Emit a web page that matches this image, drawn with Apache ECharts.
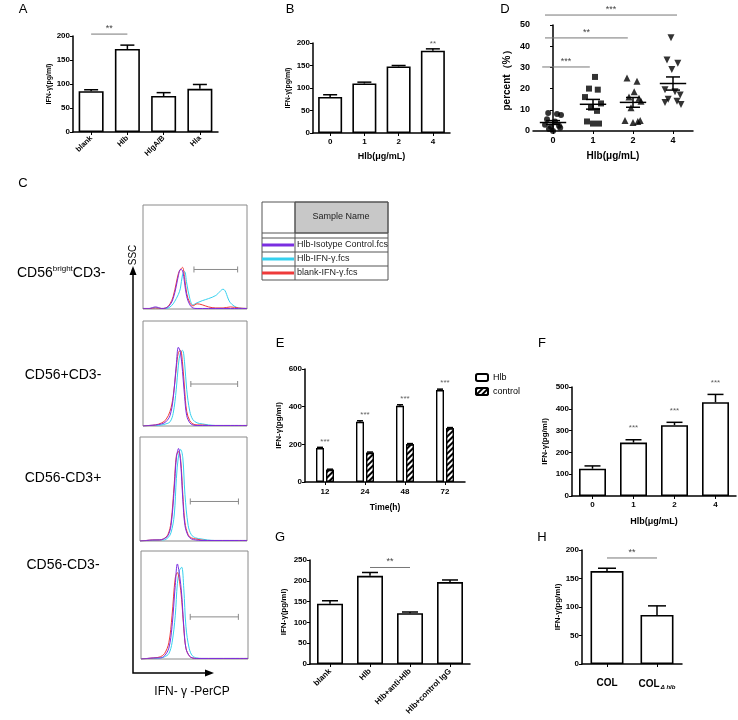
<!DOCTYPE html>
<html><head><meta charset="utf-8">
<script src="https://cdn.jsdelivr.net/npm/echarts@6/dist/echarts.min.js"></script>
<style>html,body{margin:0;padding:0;background:#fff}#c{width:738px;height:720px}</style>
</head><body><div id="c"></div>
<script>
// ---------------- DATA ----------------
const aCats = ['blank', 'Hlb', 'HlgA/B', 'Hla'];
const aVals = [85, 173, 75, 90];
const aErr  = [3, 8, 7, 9];

const bCats = ['0', '1', '2', '4'];
const bVals = [80, 110, 148, 183];
const bErr  = [5, 3, 2, 4];

const dCats = ['0', '1', '2', '4'];
const dG0 = [8.5, 8, 7.5, 5.5, 4.5, 3, 2.5, 2, 1.5, 1, 0];
const dJ0 = [-0.12, 0.1, 0.2, -0.15, 0.05, -0.2, 0.15, -0.05, 0.18, -0.1, 0.0];
const dG1 = [25.5, 20, 19.5, 16, 13, 11, 9.5, 4.5, 3.5, 3.5];
const dJ1 = [0.05, -0.1, 0.12, -0.2, 0.2, -0.05, 0.1, -0.15, 0.0, 0.15];
const dG2 = [25, 23.5, 18.5, 16, 15.5, 14, 11, 5, 4.5, 4, 5];
const dJ2 = [-0.15, 0.1, 0.03, -0.1, 0.15, 0.2, -0.05, -0.2, 0.12, 0.0, 0.18];
const dG3 = [44, 33.5, 32, 29, 19.5, 18.5, 17, 15, 14, 13.5, 12.5];
const dJ3 = [-0.05, -0.15, 0.12, -0.03, -0.2, 0.05, 0.18, -0.12, 0.1, -0.2, 0.2];
const dMean = [4.0, 12.6, 13.5, 22.4];
const dSem  = [0.9, 2.3, 2.3, 3.1];

const eCats = ['12', '24', '48', '72'];
const eHb   = [180, 320, 405, 488];
const eHbErr = [4, 5, 5, 5];
const eCtrl = [65, 155, 200, 285];
const eCtrlErr = [3, 4, 4, 4];

const fCats = ['0', '1', '2', '4'];
const fVals = [125, 245, 325, 430];
const fErr  = [13, 13, 13, 36];

const gCats = ['blank', 'Hlb', 'Hlb+anti-Hlb', 'Hlb+control IgG'];
const gVals = [145, 212, 122, 197];
const gErr  = [7, 8, 3, 5];

const hCats = ['COL', 'COLΔ'];
const hVals = [163, 86];
const hErr  = [5, 16];

// significance brackets: [from, to, level, text]
const aSig = [[0.1, 1, 204, '**']];
const dSig = [[-0.27, 0.92, 30.2, '***'], [-0.2, 1.87, 43.9, '**'], [-0.2, 3.1, 54.7, '***']];
const gSig = [[1, 2, 232, '**']];
const hSig = [[0.1, 1.08, 186, '**']];

// flow cytometry histograms (x in % of decade range, y in % of box height)
const flowX = [0, 6, 12, 18, 22, 26, 29, 32, 34, 36, 38, 40, 42, 45, 48, 52, 57, 63, 70, 77, 84, 92, 100];
const f1Purple = [0.5,0.5,2,0.5,1,4,10,22,32,38,37,25,12,4,1,0.5,0.5,0.5,0.5,0.5,0.5,0.5,0.5];
const f1Red    = [0.5,0.5,1,0.5,1,5,12,25,34,38,40,30,15,6,3,5,4,2,1,1,2,1,0.5];
const f1Cyan   = [0.5,0.5,1,0.5,0.5,2,5,10,14,20,33,36,25,10,4,6,8,10,13,19,6,1,0.5];
const f2Purple = [0,0.5,1,2,4,10,26,58,75,70,52,28,10,3,1,0.5,0.5,0.5,0.5,0.5,0.5,0.5,0.5];
const f2Red    = [0,0.5,1,3,6,14,28,55,70,72,60,35,14,5,2,1,1,0.5,0.5,0.5,0.5,0.5,0.5];
const f2Cyan   = [0,0.5,0.5,1,2,4,12,35,58,70,72,60,35,14,6,3,2,1,0.5,0.5,0.5,0.5,0.5];
const f3Purple = [0,0.5,1,1,2,5,15,50,80,89,75,40,15,5,2,1,0.5,0.5,0.5,0.5,0.5,0.5,0.5];
const f3Red    = [0,0.5,1,1,2,6,18,55,82,86,78,45,18,6,3,2,1,0.5,0.5,0.5,0.5,0.5,0.5];
const f3Cyan   = [0,0.5,0.5,1,1,3,8,25,60,82,88,80,45,15,6,3,2,1,0.5,0.5,0.5,0.5,0.5];
const f4Purple = [0,0.5,1,1,3,10,30,68,88,78,60,30,10,3,1,0.5,0.5,0.5,0.5,0.5,0.5,0.5,0.5];
const f4Red    = [0,0.5,1,2,5,15,40,75,80,72,55,28,10,3,1,0.5,0.5,0.5,0.5,0.5,0.5,0.5,0.5];
const f4Cyan   = [0,0.5,0.5,1,2,5,15,40,70,82,85,65,30,10,3,1,0.5,0.5,0.5,0.5,0.5,0.5,0.5];
const gates = [[49, 91, 38], [46, 91, 40], [47, 92, 38], [46, 91, 39]];

// ---------------- BUILD ----------------
const FONT = 'Liberation Sans, Arial, sans-serif';
const grids = [], xAxes = [], yAxes = [], series = [], graphics = [];

function errSeries(gi, vals, errs, capW, offset) {
  return {
    type: 'custom', xAxisIndex: gi, yAxisIndex: gi, z: 1, silent: true,
    data: vals.map((v, i) => [i, v, v + errs[i]]),
    renderItem(params, api) {
      const p0 = api.coord([api.value(0), api.value(1)]);
      const p1 = api.coord([api.value(0), api.value(2)]);
      const x = p0[0] + (offset || 0);
      return { type: 'group', children: [
        { type: 'line', shape: { x1: x, y1: p0[1], x2: x, y2: p1[1] }, style: { stroke: '#000', lineWidth: 1.5 } },
        { type: 'line', shape: { x1: x - capW, y1: p1[1], x2: x + capW, y2: p1[1] }, style: { stroke: '#000', lineWidth: 1.5 } }
      ]};
    }
  };
}

function bracketSeries(gi, items, fs) {
  return {
    type: 'custom', xAxisIndex: gi, yAxisIndex: gi, z: 5, silent: true, clip: false,
    data: items.map(it => [it[0], it[1], it[2]]),
    renderItem(params, api) {
      const it = items[params.dataIndex];
      const p0 = api.coord([api.value(0), api.value(2)]);
      const p1 = api.coord([api.value(1), api.value(2)]);
      return { type: 'group', children: [
        { type: 'line', shape: { x1: p0[0], y1: p0[1], x2: p1[0], y2: p1[1] }, style: { stroke: '#777', lineWidth: 1 } },
        { type: 'text', x: (p0[0] + p1[0]) / 2, y: p0[1] - 1, style: { text: it[3], textAlign: 'center', textVerticalAlign: 'bottom', fontSize: fs || 9, fontFamily: FONT, fill: '#444' } }
      ]};
    }
  };
}

function catAxis(gi, cats, o) {
  return Object.assign({
    gridIndex: gi, type: 'category', data: cats,
    axisLine: { show: true, lineStyle: { color: '#000', width: 1.5 } },
    axisTick: { show: true, alignWithLabel: true, length: 3, lineStyle: { color: '#000', width: 1 } },
    axisLabel: { color: '#000', fontSize: 8, fontWeight: 'bold', fontFamily: FONT, margin: 5, interval: 0 },
    nameTextStyle: { color: '#000', fontSize: 9, fontWeight: 'bold', fontFamily: FONT }
  }, o || {});
}
function valAxis(gi, max, interval, name, nameGap, o) {
  return Object.assign({
    gridIndex: gi, type: 'value', min: 0, max: max, interval: interval,
    axisLine: { show: true, lineStyle: { color: '#000', width: 1.5 } },
    axisTick: { show: true, length: 3, lineStyle: { color: '#000', width: 1 } },
    splitLine: { show: false },
    axisLabel: { color: '#000', fontSize: 8, fontWeight: 'bold', fontFamily: FONT, margin: 3 },
    name: name, nameLocation: 'middle', nameGap: nameGap, nameRotate: 90,
    nameTextStyle: { color: '#000', fontSize: 8, fontWeight: 'bold', fontFamily: FONT }
  }, o || {});
}
function barSeries(gi, vals, bw, extra) {
  return Object.assign({
    type: 'bar', xAxisIndex: gi, yAxisIndex: gi, data: vals, barWidth: bw, z: 2,
    itemStyle: { color: '#fff', borderColor: '#000', borderWidth: 1.6 }, silent: true
  }, extra || {});
}
function starSeries(gi, xs, ys, txt, off) {
  return {
    type: 'scatter', xAxisIndex: gi, yAxisIndex: gi, symbolSize: 0, silent: true,
    data: xs.map((x, i) => [x, ys[i]]),
    label: { show: true, position: 'top', distance: off || 2, formatter: txt, color: '#333', fontSize: 8, fontFamily: FONT }
  };
}

// ---- Panel A ----
grids.push({ left: 73, top: 36, width: 145, height: 96 });
xAxes.push(catAxis(0, aCats, { axisLabel: { color: '#000', fontSize: 7.5, fontWeight: 'bold', fontFamily: FONT, rotate: 45, margin: 5, interval: 0 } }));
yAxes.push(valAxis(0, 200, 50, 'IFN-γ(pg/ml)', 19, { nameTextStyle: { color: '#000', fontSize: 7, fontWeight: 'bold', fontFamily: FONT } }));
series.push(barSeries(0, aVals, 25));
series.push(errSeries(0, aVals, aErr, 7));
series.push(bracketSeries(0, aSig));

// ---- Panel B ----
grids.push({ left: 313, top: 43, width: 137, height: 90 });
xAxes.push(catAxis(1, bCats, { name: 'Hlb(μg/mL)', nameLocation: 'middle', nameGap: 19 }));
yAxes.push(valAxis(1, 200, 50, 'IFN-γ(pg/ml)', 21, { nameTextStyle: { color: '#000', fontSize: 7, fontWeight: 'bold', fontFamily: FONT } }));
series.push(barSeries(1, bVals, 24));
series.push(errSeries(1, bVals, bErr, 7));
series.push(starSeries(1, [3], [bVals[3] + bErr[3]], '**', 1));

// ---- Panel D ----
grids.push({ left: 533, top: 25, width: 160, height: 106 });
xAxes.push({
  gridIndex: 2, type: 'value', min: -0.5, max: 3.5,
  axisLine: { show: true, lineStyle: { color: '#000', width: 1.5 } },
  axisTick: { show: true, length: 3, customValues: [0, 1, 2, 3], lineStyle: { color: '#000' } },
  splitLine: { show: false },
  axisLabel: { customValues: [0, 1, 2, 3], formatter: v => dCats[Math.round(v)], color: '#000', fontSize: 9, fontWeight: 'bold', fontFamily: FONT, margin: 5 },
  name: 'Hlb(μg/mL)', nameLocation: 'middle', nameGap: 20,
  nameTextStyle: { color: '#000', fontSize: 10, fontWeight: 'bold', fontFamily: FONT }
});
yAxes.push(valAxis(2, 50, 10, 'percent（%）', 21, {
  axisLabel: { color: '#000', fontSize: 9, fontWeight: 'bold', fontFamily: FONT, margin: 3 },
  nameTextStyle: { color: '#000', fontSize: 10, fontWeight: 'bold', fontFamily: FONT }
}));
const dGroups = [[dG0, dJ0, 'circle', 6], [dG1, dJ1, 'rect', 6], [dG2, dJ2, 'triangle', 7], [dG3, dJ3, 'path://M0,0 L10,0 L5,9 Z', 7]];
dGroups.forEach((g, gi) => {
  series.push({
    type: 'scatter', xAxisIndex: 2, yAxisIndex: 2, symbol: g[2], symbolSize: g[3], silent: true,
    itemStyle: { color: '#000' }, z: 3,
    data: g[0].map((v, i) => [gi + g[1][i], v])
  });
});
series.push({
  type: 'custom', xAxisIndex: 2, yAxisIndex: 2, z: 4, silent: true,
  data: dMean.map((m, i) => [i, m, dSem[i]]),
  renderItem(params, api) {
    const i = api.value(0), m = api.value(1), s = api.value(2);
    const pm0 = api.coord([i - 0.33, m]), pm1 = api.coord([i + 0.33, m]);
    const pu = api.coord([i, m + s]), pd = api.coord([i, m - s]);
    const cw = 7;
    const st = { stroke: '#000', lineWidth: 1.5 };
    return { type: 'group', children: [
      { type: 'line', shape: { x1: pm0[0], y1: pm0[1], x2: pm1[0], y2: pm1[1] }, style: st },
      { type: 'line', shape: { x1: pu[0], y1: pu[1], x2: pd[0], y2: pd[1] }, style: st },
      { type: 'line', shape: { x1: pu[0] - cw, y1: pu[1], x2: pu[0] + cw, y2: pu[1] }, style: st },
      { type: 'line', shape: { x1: pd[0] - cw, y1: pd[1], x2: pd[0] + cw, y2: pd[1] }, style: st }
    ]};
  }
});
series.push(bracketSeries(2, dSig));

// ---- Panel E ----
grids.push({ left: 305, top: 369, width: 160, height: 113 });
xAxes.push(catAxis(3, eCats, { name: 'Time(h)', nameLocation: 'middle', nameGap: 21, axisLabel: { color: '#000', fontSize: 8, fontWeight: 'bold', fontFamily: FONT, margin: 6, interval: 0 }, nameTextStyle: { color: '#000', fontSize: 8.5, fontWeight: 'bold', fontFamily: FONT } }));
yAxes.push(valAxis(3, 600, 200, 'IFN-γ(pg/ml)', 22, { nameTextStyle: { color: '#000', fontSize: 8, fontWeight: 'bold', fontFamily: FONT } }));
series.push(barSeries(3, eHb, 8, { name: 'Hlb', barGap: '25%', itemStyle: { color: '#fff', borderColor: '#000', borderWidth: 1.4 } }));
series.push(barSeries(3, eCtrl, 8, { name: 'control', barGap: '25%', itemStyle: { color: '#fff', borderColor: '#000', borderWidth: 1.4,
  decal: { symbol: 'rect', symbolSize: 1, color: '#000', backgroundColor: '#fff', dashArrayX: [1, 0], dashArrayY: [1.2, 1.8], rotation: -Math.PI / 4 } } }));
series.push(errSeries(3, eHb, eHbErr, 3, -5));
series.push(errSeries(3, eCtrl, eCtrlErr, 3, 5));
series.push(starSeries(3, [0, 1, 2, 3].map(i => i - 0.12), eHb.map((v, i) => v + eHbErr[i]), '***', 2));

// ---- Panel F ----
grids.push({ left: 572, top: 387, width: 164, height: 109 });
xAxes.push(catAxis(4, fCats, { name: 'Hlb(μg/mL)', nameLocation: 'middle', nameGap: 21, nameTextStyle: { color: '#000', fontSize: 9, fontWeight: 'bold', fontFamily: FONT } }));
yAxes.push(valAxis(4, 500, 100, 'IFN-γ(pg/ml)', 23, { nameTextStyle: { color: '#000', fontSize: 8, fontWeight: 'bold', fontFamily: FONT } }));
series.push(barSeries(4, fVals, 27));
series.push(errSeries(4, fVals, fErr, 8));
series.push(starSeries(4, [1, 2, 3], [1, 2, 3].map(i => fVals[i] + fErr[i]), '***', 8));

// ---- Panel G ----
grids.push({ left: 310, top: 560, width: 160, height: 104 });
xAxes.push(catAxis(5, gCats, { axisLabel: { color: '#000', fontSize: 8, fontWeight: 'bold', fontFamily: FONT, rotate: 45, margin: 6, interval: 0 } }));
yAxes.push(valAxis(5, 250, 50, 'IFN-γ(pg/ml)', 22, { nameTextStyle: { color: '#000', fontSize: 8, fontWeight: 'bold', fontFamily: FONT } }));
series.push(barSeries(5, gVals, 26));
series.push(errSeries(5, gVals, gErr, 8));
series.push(bracketSeries(5, gSig));

// ---- Panel H ----
grids.push({ left: 582, top: 550, width: 100, height: 114 });
xAxes.push(catAxis(6, hCats, {
  axisLabel: {
    color: '#000', fontSize: 10, fontWeight: 'bold', fontFamily: FONT, margin: 14, interval: 0,
    formatter: v => v === 'COL' ? '{a|COL}' : '{a|COL}{b|Δ hlb}',
    rich: { a: { fontSize: 10, fontWeight: 'bold', fontFamily: FONT, color: '#000' },
            b: { fontSize: 6, fontStyle: 'italic', fontWeight: 'bold', fontFamily: FONT, color: '#000', padding: [6, 0, 0, 1] } }
  }
}));
yAxes.push(valAxis(6, 200, 50, 'IFN-γ(pg/ml)', 20, { nameTextStyle: { color: '#000', fontSize: 8, fontWeight: 'bold', fontFamily: FONT } }));
series.push(barSeries(6, hVals, 33));
series.push(errSeries(6, hVals, hErr, 9));
series.push(bracketSeries(6, hSig));

// ---- Flow histograms ----
const flowBoxes = [
  { left: 143, top: 205, width: 104, height: 104 },
  { left: 143, top: 321, width: 104, height: 105 },
  { left: 140, top: 437, width: 107, height: 104 },
  { left: 141, top: 551, width: 107, height: 108 }
];
const flowSets = [[f1Purple, f1Cyan, f1Red], [f2Purple, f2Cyan, f2Red], [f3Purple, f3Cyan, f3Red], [f4Purple, f4Cyan, f4Red]];
const flowColors = ['#7a2ee0', '#35d0ee', '#ee3a3a'];
flowBoxes.forEach((b, k) => {
  const gi = grids.length;
  grids.push(Object.assign({ show: true, borderColor: '#8a8a8a', borderWidth: 1, backgroundColor: '#fff' }, b));
  xAxes.push({ gridIndex: gi, type: 'value', min: 0, max: 100, show: false });
  yAxes.push({ gridIndex: gi, type: 'value', min: 0, max: 100, show: false });
  [1, 2, 0].forEach(ci => {
    series.push({
      type: 'line', xAxisIndex: gi, yAxisIndex: gi, smooth: 0.35, showSymbol: false, silent: true,
      lineStyle: { color: flowColors[ci], width: 1 },
      data: flowX.map((x, i) => [x, flowSets[k][ci][i]])
    });
  });
  series.push({
    type: 'custom', xAxisIndex: gi, yAxisIndex: gi, silent: true,
    data: [gates[k]],
    renderItem(params, api) {
      const p0 = api.coord([api.value(0), api.value(2)]), p1 = api.coord([api.value(1), api.value(2)]);
      const st = { stroke: '#8a8a8a', lineWidth: 1 };
      return { type: 'group', children: [
        { type: 'line', shape: { x1: p0[0], y1: p0[1], x2: p1[0], y2: p1[1] }, style: st },
        { type: 'line', shape: { x1: p0[0], y1: p0[1] - 3, x2: p0[0], y2: p0[1] + 3 }, style: st },
        { type: 'line', shape: { x1: p1[0], y1: p1[1] - 3, x2: p1[0], y2: p1[1] + 3 }, style: st }
      ]};
    }
  });
});

// ---------------- GRAPHICS (labels, arrows, table) ----------------
function txt(x, y, s, fs, extra) {
  return { type: 'text', x: x, y: y, silent: true, style: Object.assign({ text: s, fontSize: fs, fontFamily: FONT, fill: '#000', textAlign: 'center', textVerticalAlign: 'middle' }, extra || {}) };
}
[['A', 23, 9], ['B', 290, 9], ['D', 505, 9], ['C', 23, 183], ['E', 280, 343], ['F', 542, 343], ['G', 280, 537], ['H', 542, 537]]
  .forEach(p => graphics.push(txt(p[1], p[2], p[0], 13)));

graphics.push({ type: 'text', x: 17, y: 273, silent: true, style: {
  rich: { a: { fontSize: 14, fontFamily: FONT, fill: '#000' }, s: { fontSize: 8, fontFamily: FONT, fill: '#000', padding: [0, 0, 8, 0] } },
  text: '{a|CD56}{s|bright}{a|CD3-}', textVerticalAlign: 'middle' } });
graphics.push(txt(63, 375, 'CD56+CD3-', 14));
graphics.push(txt(63, 478, 'CD56-CD3+', 14));
graphics.push(txt(63, 565, 'CD56-CD3-', 14));

// axes arrows
graphics.push({ type: 'polyline', silent: true, shape: { points: [[133, 273], [133, 673], [207, 673]] }, style: { stroke: '#000', lineWidth: 1.5, fill: null } });
graphics.push({ type: 'polygon', silent: true, shape: { points: [[129.5, 275], [136.5, 275], [133, 266]] }, style: { fill: '#000' } });
graphics.push({ type: 'polygon', silent: true, shape: { points: [[205, 669.5], [205, 676.5], [214, 673]] }, style: { fill: '#000' } });
graphics.push(Object.assign(txt(133, 255, 'SSC', 10), { rotation: Math.PI / 2 }));
graphics.push(txt(192, 692, 'IFN- γ -PerCP', 12));

// legend table
graphics.push({ type: 'rect', silent: true, shape: { x: 295, y: 202, width: 93, height: 31 }, style: { fill: '#c8c8c8', stroke: '#555', lineWidth: 1 } });
graphics.push({ type: 'rect', silent: true, shape: { x: 262, y: 202, width: 126, height: 78 }, style: { fill: null, stroke: '#555', lineWidth: 1 } });
[233, 238, 252, 266].forEach(y => graphics.push({ type: 'line', silent: true, shape: { x1: 262, y1: y, x2: 388, y2: y }, style: { stroke: '#555', lineWidth: 1 } }));
graphics.push({ type: 'line', silent: true, shape: { x1: 295, y1: 202, x2: 295, y2: 280 }, style: { stroke: '#555', lineWidth: 1 } });
graphics.push(txt(341, 217, 'Sample Name', 9, { fill: '#222' }));
const tRows = [['Hlb-Isotype Control.fcs', 245], ['Hlb-IFN-γ.fcs', 259], ['blank-IFN-γ.fcs', 273]];
tRows.forEach((r, i) => {
  graphics.push(txt(297, r[1], r[0], 9, { textAlign: 'left', fill: '#222' }));
  graphics.push({ type: 'line', silent: true, shape: { x1: 262, y1: r[1], x2: 294, y2: r[1] }, style: { stroke: flowColors[i], lineWidth: 3 } });
});

const chart = echarts.init(document.getElementById('c'), null, { renderer: 'canvas' });
chart.setOption({
  animation: false,
  backgroundColor: '#fff',
  grid: grids, xAxis: xAxes, yAxis: yAxes, series: series,
  legend: {
    data: ['Hlb', 'control'], orient: 'vertical', left: 470, top: 368, itemWidth: 12, itemHeight: 7, itemGap: 5,
    textStyle: { fontSize: 9, fontFamily: FONT, color: '#000' }, selectedMode: false
  },
  graphic: graphics
});
</script></body></html>
